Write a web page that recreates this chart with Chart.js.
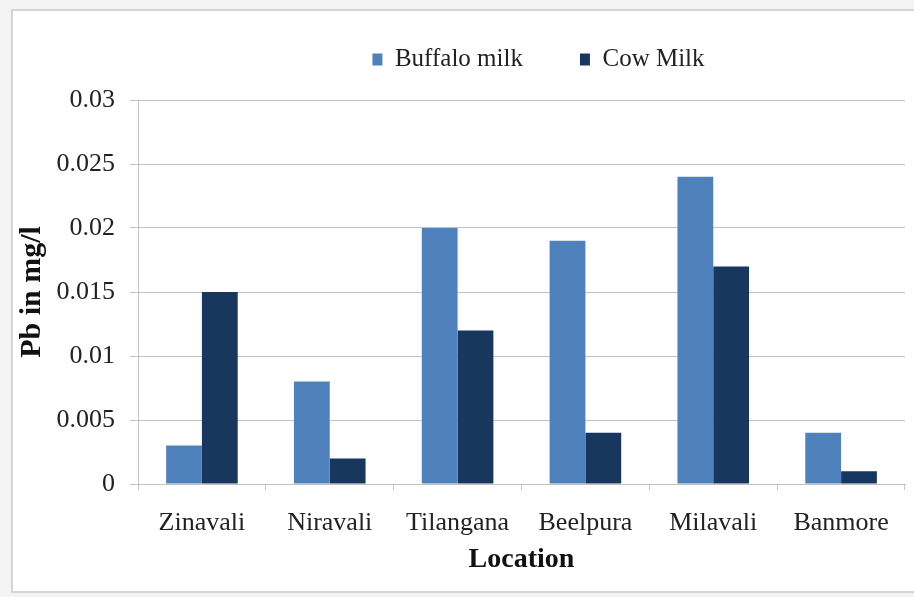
<!DOCTYPE html>
<html>
<head>
<meta charset="utf-8">
<script src="https://cdn.jsdelivr.net/npm/chart.js@4.4.1/dist/chart.umd.min.js"></script>
<style>
  html, body { margin: 0; padding: 0; background: #f3f3f3; }
  .wrap { position: relative; width: 914px; height: 597px; overflow: hidden; }
  .frame {
    position: absolute; left: 11px; top: 9px; width: 920px; height: 584px;
    background: #fff; border: 2px solid #d4d4d4; box-sizing: border-box;
  }
  #chart { position: absolute; left: 0; top: 0; }
</style>
</head>
<body>
<div class="wrap">
  <div class="frame"></div>
  <canvas id="chart" width="914" height="597"></canvas>
</div>
<script>
const locations = ['Zinavali', 'Niravali', 'Tilangana', 'Beelpura', 'Milavali', 'Banmore'];
const buffaloMilk = [0.003, 0.008, 0.020, 0.019, 0.024, 0.004];
const cowMilk = [0.015, 0.002, 0.012, 0.004, 0.017, 0.001];
const yTickLabels = ['0', '0.005', '0.01', '0.015', '0.02', '0.025', '0.03'];

const serif = '"Liberation Serif", "Times New Roman", serif';
const gridColor = '#c2c2c2';

// taller legend box so the plot starts lower, and legend sits a bit right of center
const legendFit = {
  id: 'legendFit',
  beforeInit(chart) {
    const fit = chart.legend.fit;
    chart.legend.fit = function () {
      fit.call(this);
      this.height = 110;
    };
  },
  afterLayout(chart) {
    chart.legend.left += 172;
  },
};

const ctx = document.getElementById('chart').getContext('2d');
new Chart(ctx, {
  type: 'bar',
  data: {
    labels: locations,
    datasets: [
      {
        label: 'Buffalo milk',
        data: buffaloMilk,
        backgroundColor: '#4f81bd',
        categoryPercentage: 0.56,
        barPercentage: 1,
      },
      {
        label: 'Cow Milk',
        data: cowMilk,
        backgroundColor: '#17375e',
        categoryPercentage: 0.56,
        barPercentage: 1,
      },
    ],
  },
  options: {
    responsive: false,
    animation: false,
    layout: { padding: { top: -10, right: 9, left: 0, bottom: 0 } },
    plugins: {
      legend: {
        position: 'top',
        labels: {
          boxWidth: 10,
          boxHeight: 12,
          padding: 57,
          color: '#222',
          font: { family: serif, size: 25 },
        },
      },
      tooltip: { enabled: false },
    },
    scales: {
      x: {
        offset: true,
        grid: {
          offset: true,
          drawOnChartArea: false,
          drawTicks: true,
          tickLength: 6,
          color: gridColor,
        },
        border: { color: gridColor, width: 1 },
        ticks: {
          padding: 18,
          color: '#222',
          font: { family: serif, size: 26 },
          maxRotation: 0,
        },
        title: {
          display: true,
          text: 'Location',
          color: '#111',
          font: { family: serif, size: 28, weight: 'bold' },
          padding: { top: 4, bottom: 20 },
        },
        afterFit(scale) {
          scale.height = 113;
        },
      },
      y: {
        min: 0,
        max: 0.03,
        ticks: {
          stepSize: 0.005,
          padding: 15,
          color: '#222',
          font: { family: serif, size: 26 },
          callback: (v, i) => yTickLabels[i],
        },
        grid: {
          color: gridColor,
          tickLength: 8,
        },
        border: { color: gridColor, width: 1 },
        title: {
          display: true,
          text: 'Pb in mg/l',
          color: '#111',
          font: { family: serif, size: 30, weight: 'bold' },
          padding: { top: 14 },
        },
        afterFit(scale) {
          scale.width = 138;
        },
      },
    },
  },
  plugins: [legendFit],
});
</script>
</body>
</html>
